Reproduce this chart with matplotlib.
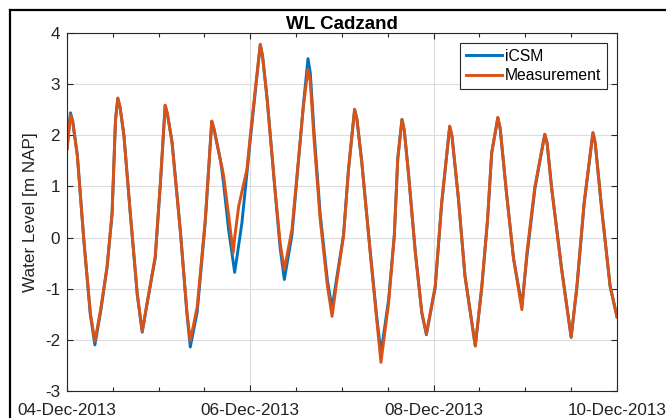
import numpy as np
import matplotlib
matplotlib.use('Agg')
import matplotlib.pyplot as plt
import matplotlib.dates as mdates
from matplotlib.lines import Line2D

plt.rcParams['font.family'] = ['Liberation Sans', 'DejaVu Sans']
plt.rcParams['axes.unicode_minus'] = False

# hours after 04-Dec-2013 00:00
hours = [0.0, 0.9, 1.5, 2.7, 4.4, 6.1, 7.3, 8.8, 10.5, 11.8,
         12.7, 13.3, 13.9, 14.9, 16.6, 18.4, 19.7, 21.1, 23.1, 24.5,
         25.7, 26.3, 27.5, 29.7, 31.4, 32.3, 34.1, 36.2, 37.9, 38.5,
         40.2, 40.6, 41.0, 42.3, 43.5, 43.9, 44.95, 45.8, 47.1, 48.0,
         49.3, 50.6, 51.2, 52.4, 54.5, 55.8, 56.9, 58.9, 61.9, 63.1,
         63.7, 64.7, 66.3, 68.2, 69.4, 70.7, 72.4, 73.7, 75.3, 75.9,
         77.2, 79.4, 81.1, 82.2, 84.2, 85.7, 86.6, 87.7, 88.3, 89.4,
         91.2, 92.9, 94.1, 96.4, 98.1, 100.2, 100.8, 102.5, 104.2, 106.9,
         108.6, 110.1, 111.2, 112.8, 113.4, 115.1, 116.9, 119.1, 120.4, 122.5,
         125.1, 125.7, 126.9, 129.5, 132.0, 133.5, 135.4, 137.7, 138.3, 140.0,
         142.2, 144.0]

icsm = [1.73, 2.44, 2.28, 1.62, -0.04, -1.50, -2.10, -1.45, -0.58, 0.46,
        2.30, 2.72, 2.54, 2.00, 0.45, -1.12, -1.85, -1.24, -0.40, 1.10,
        2.58, 2.41, 1.88, 0.12, -1.49, -2.14, -1.45, 0.30, 2.27, 2.12,
        1.50, 1.30, 1.05, 0.16, -0.47, -0.68, -0.15, 0.29, 1.25, 1.92,
        2.85, 3.77, 3.55, 2.72, 0.90, -0.20, -0.82, 0.05, 2.60, 3.50,
        3.22, 2.05, 0.45, -0.85, -1.38, -0.75, 0.05, 1.33, 2.50, 2.32,
        1.47, -0.28, -1.55, -2.26, -1.22, 0.05, 1.55, 2.31, 2.10, 1.27,
        -0.28, -1.47, -1.90, -0.98, 0.66, 2.17, 1.98, 0.75, -0.75, -2.12,
        -0.98, 0.33, 1.66, 2.34, 2.14, 0.85, -0.40, -1.33, -0.38, 0.95,
        2.02, 1.85, 0.97, -0.60, -1.95, -0.98, 0.66, 2.05, 1.85, 0.56,
        -0.95, -1.55]

measurement = [1.73, 2.40, 2.25, 1.60, -0.04, -1.47, -2.03, -1.41, -0.56, 0.48,
               2.31, 2.73, 2.55, 2.00, 0.45, -1.10, -1.83, -1.22, -0.37, 1.14,
               2.59, 2.42, 1.85, 0.10, -1.45, -2.02, -1.35, 0.35, 2.28, 2.12,
               1.50, 1.37, 1.21, 0.45, -0.30, 0.00, 0.61, 0.90, 1.33, 2.00,
               2.90, 3.78, 3.55, 2.70, 0.90, -0.10, -0.63, 0.16, 2.57, 3.29,
               3.05, 1.90, 0.35, -0.95, -1.54, -0.82, 0.03, 1.33, 2.51, 2.32,
               1.45, -0.30, -1.61, -2.44, -1.28, 0.03, 1.53, 2.31, 2.10, 1.25,
               -0.30, -1.47, -1.88, -0.95, 0.69, 2.18, 1.98, 0.75, -0.75, -2.12,
               -0.95, 0.35, 1.66, 2.35, 2.15, 0.85, -0.40, -1.41, -0.30, 1.00,
               2.02, 1.85, 0.95, -0.63, -1.95, -0.95, 0.69, 2.05, 1.85, 0.55,
               -0.95, -1.55]

t0 = np.datetime64('2013-12-04T00:00')
times = t0 + (np.array(hours) * 60).astype('timedelta64[m]')

fig = plt.figure(figsize=(6.66, 4.18), dpi=100)
ax = fig.add_axes([0.1006, 0.0646, 0.8258, 0.8564])

ax.plot(times, icsm, color='#0072BD', lw=2.1, label='iCSM',
        solid_joinstyle='round')
ax.plot(times, measurement, color='#D95319', lw=2.1, label='Measurement',
        solid_joinstyle='round')

ax.set_xlim(np.datetime64('2013-12-04'), np.datetime64('2013-12-10'))
ax.set_ylim(-3, 4)
ax.set_yticks(range(-3, 5))
ax.xaxis.set_major_locator(mdates.DayLocator(bymonthday=[4, 6, 8, 10]))
ax.xaxis.set_minor_locator(mdates.HourLocator(byhour=[0, 12]))
ax.xaxis.set_major_formatter(mdates.DateFormatter('%d-%b-%Y'))

ax.grid(True, which='major', color='#dcdcdc', lw=0.8)
ax.set_axisbelow(True)
for s in ax.spines.values():
    s.set_color('#262626')
    s.set_linewidth(0.8)
ax.tick_params(which='both', direction='in', top=True, right=True,
               colors='#262626', labelsize=12.3, labelcolor='#222222')
ax.tick_params(which='major', length=4, width=0.8)
ax.tick_params(which='minor', length=3, width=0.8)
ax.tick_params(axis='x', which='major', pad=9)
ax.tick_params(axis='y', which='major', pad=5)

ax.set_ylabel('Water Level [m NAP]', fontsize=12.3, color='#222222', labelpad=5)
ax.set_title('WL Cadzand', fontsize=13.5, fontweight='bold', pad=3)

leg = ax.legend(loc='upper right', bbox_to_anchor=(0.982, 0.972), fontsize=11.3,
                fancybox=False, framealpha=1, edgecolor='#262626',
                handlelength=2.3, handletextpad=0.2, borderpad=0.35,
                labelspacing=0.3, borderaxespad=0)
leg.get_frame().set_linewidth(0.8)

# outer frame seen at top and left of the picture
y_top = 1 - 10 / 418
x_left = 10 / 666
fig.add_artist(Line2D([x_left, 1], [y_top, y_top], color='black', lw=1.6))
fig.add_artist(Line2D([x_left, x_left], [0, y_top], color='black', lw=1.6))

fig.savefig('out.png', dpi=100)
